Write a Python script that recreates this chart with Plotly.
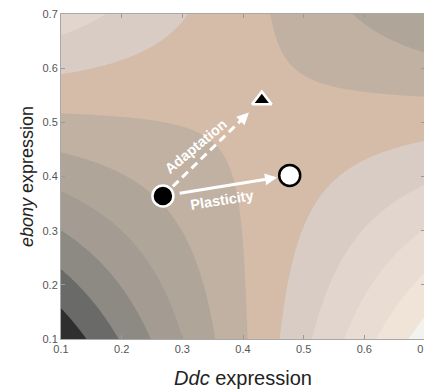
import numpy as np
import plotly.graph_objects as go

# ---- axis ticks ----
tick_values = [0.1, 0.2, 0.3, 0.4, 0.5, 0.6, 0.7]
tick_labels = ["0.1", "0.2", "0.3", "0.4", "0.5", "0.6", "0.7"]

# ---- saddle-shaped landscape ----
saddle_ddc = 0.418
saddle_ebony = 0.531
saddle_level = -0.3
saddle_curvature = -43.7
band_levels = [-6, -5, -4, -3, -2, -1, 0, 1, 2, 3, 4, 5]
band_colors = ["#2f2f30", "#6a6a68", "#8d8983", "#a49c93", "#b0a599", "#c0b1a2",
               "#d4bca8", "#d8ccc4", "#e1d5cd", "#e8dcd3", "#f0e3d8", "#f3f3ee"]

# ---- populations ----
point_names = ["Ancestral", "Plastic", "Adapted"]
ddc_values = [0.268, 0.477, 0.431]
ebony_values = [0.364, 0.402, 0.541]
point_symbols = ["circle", "circle", "triangle-up"]
point_fill = ["black", "white", "black"]
point_edge = ["white", "black", "white"]
point_sizes = [21, 21, 17]

xg = np.linspace(0.1, 0.7, 241)
yg = np.linspace(0.1, 0.7, 241)
X, Y = np.meshgrid(xg, yg)
Z = saddle_level + saddle_curvature * (X - saddle_ddc) * (Y - saddle_ebony)

n = len(band_colors)
colorscale = [[i / (n - 1), c] for i, c in enumerate(band_colors)]

fig = go.Figure()
fig.add_trace(go.Contour(
    x=xg, y=yg, z=Z,
    autocontour=False,
    contours=dict(start=band_levels[0] + 0.5, end=band_levels[-1] - 0.5, size=1,
                  coloring="fill", showlines=False),
    line=dict(width=0),
    colorscale=colorscale, showscale=False, hoverinfo="skip",
))

anc = np.array([ddc_values[0], ebony_values[0]])
pla = np.array([ddc_values[1], ebony_values[1]])
ada = np.array([ddc_values[2], ebony_values[2]])

# dashed shaft of the adaptation arrow
a_start = anc + 0.10 * (ada - anc)
a_mid = anc + 0.82 * (ada - anc)
a_tip = anc + 0.87 * (ada - anc)
fig.add_trace(go.Scatter(
    x=[a_start[0], a_mid[0]], y=[a_start[1], a_mid[1]], mode="lines",
    line=dict(color="white", width=3, dash="8px,5px"), hoverinfo="skip", showlegend=False,
))

fig.add_trace(go.Scatter(
    x=ddc_values, y=ebony_values, mode="markers", text=point_names, opacity=1,
    marker=dict(symbol=point_symbols, size=point_sizes, color=point_fill, opacity=1,
                line=dict(color=point_edge, width=2.5)),
    hoverinfo="text", showlegend=False,
))

p_start = anc + 0.12 * (pla - anc)
p_tip = anc + 0.90 * (pla - anc)

annotations = [
    dict(x=p_tip[0], y=p_tip[1], ax=p_start[0], ay=p_start[1], xref="x", yref="y",
         axref="x", ayref="y", showarrow=True, arrowhead=2, arrowsize=0.8,
         arrowwidth=3, arrowcolor="white", text=""),
    dict(x=a_tip[0], y=a_tip[1], ax=a_mid[0], ay=a_mid[1], xref="x", yref="y",
         axref="x", ayref="y", showarrow=True, arrowhead=2, arrowsize=0.8,
         arrowwidth=3, arrowcolor="white", text=""),
    dict(x=0.323, y=0.456, xref="x", yref="y", text="<b>Adaptation</b>", showarrow=False,
         textangle=-40, font=dict(family="Arial, Liberation Sans", size=14.5, color="white")),
    dict(x=0.366, y=0.357, xref="x", yref="y", text="<b>Plasticity</b>", showarrow=False,
         textangle=-9, font=dict(family="Arial, Liberation Sans", size=14.5, color="white")),
]

axis_common = dict(
    range=[0.1, 0.7], tickvals=tick_values, ticktext=tick_labels,
    ticks="inside", ticklen=4, tickcolor="#9a9a9a", tickwidth=1,
    showline=True, linecolor="#a8a8a8", linewidth=1, mirror="ticks",
    showgrid=False, zeroline=False, automargin=False, ticklabeloverflow="allow",
    tickfont=dict(family="Arial, Liberation Sans", size=11, color="#555555"),
)

# page body adds an 8px margin, so the figure is sized 8px smaller on each side
fig.update_layout(
    width=424, height=381,
    margin=dict(l=53, r=7, t=6, b=50),
    paper_bgcolor="white", plot_bgcolor="white",
    font=dict(family="Arial, Liberation Sans", color="#222222"),
    xaxis=dict(**axis_common,
               title=dict(text="<i>Ddc</i> expression", standoff=22,
                          font=dict(family="Arial, Liberation Sans", size=20, color="#222222"))),
    yaxis=dict(**axis_common,
               title=dict(text="<i>ebony</i> expression", standoff=4,
                          font=dict(family="Arial, Liberation Sans", size=18, color="#222222"))),
    annotations=annotations,
    showlegend=False,
)

fig.write_html("out.html")
